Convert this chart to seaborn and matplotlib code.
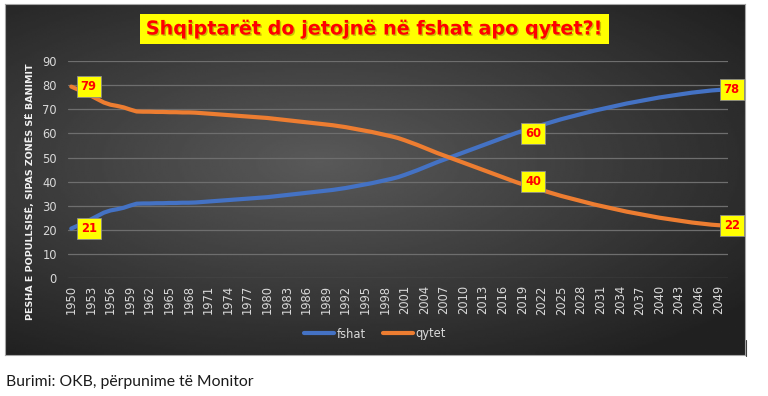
import numpy as np
import pandas as pd
import seaborn as sns
import matplotlib.pyplot as plt
from matplotlib.lines import Line2D
import matplotlib.patheffects as pe

# te dhenat (lexuar nga grafiku), 1950-2050
years = list(range(1950, 2051))
fshat = [20.6, 21.8, 23.1, 24.4, 25.8, 27.2, 28.1, 28.6, 29.2, 30.1,
         30.9, 31.0, 31.0, 31.1, 31.1, 31.2, 31.2, 31.3, 31.3, 31.4,
         31.6, 31.8, 32.0, 32.2, 32.4, 32.6, 32.8, 33.0, 33.2, 33.4,
         33.6, 33.9, 34.2, 34.5, 34.8, 35.1, 35.4, 35.7, 36.0, 36.3,
         36.6, 37.0, 37.4, 37.9, 38.4, 38.9, 39.4, 40.0, 40.6, 41.2,
         41.9, 42.8, 43.8, 44.8, 45.9, 47.0, 48.1, 49.1, 50.1, 51.1,
         52.1, 53.1, 54.1, 55.1, 56.1, 57.1, 58.1, 59.1, 60.1, 61.0,
         61.9, 62.7, 63.5, 64.3, 65.1, 65.9, 66.6, 67.3, 68.0, 68.7,
         69.4, 70.0, 70.6, 71.2, 71.8, 72.4, 72.9, 73.4, 73.9, 74.4,
         74.9, 75.3, 75.7, 76.1, 76.5, 76.9, 77.2, 77.5, 77.8, 78.0,
         78.2]
qytet = [79.4, 78.2, 76.9, 75.6, 74.2, 72.8, 71.9, 71.4, 70.8, 69.9,
         69.1, 69.0, 69.0, 68.9, 68.9, 68.8, 68.8, 68.7, 68.7, 68.6,
         68.4, 68.2, 68.0, 67.8, 67.6, 67.4, 67.2, 67.0, 66.8, 66.6,
         66.4, 66.1, 65.8, 65.5, 65.2, 64.9, 64.6, 64.3, 64.0, 63.7,
         63.4, 63.0, 62.6, 62.1, 61.6, 61.1, 60.6, 60.0, 59.4, 58.8,
         58.1, 57.2, 56.2, 55.2, 54.1, 53.0, 51.9, 50.9, 49.9, 48.9,
         47.9, 46.9, 45.9, 44.9, 43.9, 42.9, 41.9, 40.9, 39.9, 39.0,
         38.1, 37.3, 36.5, 35.7, 34.9, 34.1, 33.4, 32.7, 32.0, 31.3,
         30.6, 30.0, 29.4, 28.8, 28.2, 27.6, 27.1, 26.6, 26.1, 25.6,
         25.1, 24.7, 24.3, 23.9, 23.5, 23.1, 22.8, 22.5, 22.2, 22.0,
         21.8]
label_years = [1950, 2018, 2050]
label_offsets = [12.5, 12.5, 5]

title = 'Shqiptarët do jetojnë në fshat apo qytet?!'
ylabel = 'PESHA E POPULLSISË, SIPAS ZONËS SË BANIMIT'
source = 'Burimi: OKB, përpunime të Monitor'

df = pd.DataFrame({
    'viti': years * 2,
    'pesha': fshat + qytet,
    'zona': ['fshat'] * len(years) + ['qytet'] * len(years),
})
colors = {'fshat': '#4472C4', 'qytet': '#ED7D31'}

sns.set_theme(style='white')
plt.rcParams['font.family'] = ['DejaVu Sans']

fig = plt.figure(figsize=(7.68, 3.96), dpi=100)
fig.patch.set_facecolor('white')

# sfondi i erret me gradient
bg = fig.add_axes([5 / 768, 1 - 355 / 396, 740 / 768, 351 / 396])
yy, xx = np.mgrid[-1:1:200j, -1:1:400j]
r = np.sqrt(((xx + 0.15) * 1.0) ** 2 + ((yy + 0.1) * 1.1) ** 2)
shade = np.clip(0.35 - 0.15 * r, 0.13, 0.4)
bg.imshow(shade, cmap='gray', vmin=0, vmax=1, aspect='auto', interpolation='bilinear')
bg.set_xticks([])
bg.set_yticks([])
for s in bg.spines.values():
    s.set_color('#a6a6a6')
    s.set_linewidth(0.8)

ax = fig.add_axes([68 / 768, 1 - 278.3 / 396, 660 / 768, 217.3 / 396])
ax.set_facecolor('none')
sns.lineplot(data=df, x='viti', y='pesha', hue='zona', palette=colors,
             linewidth=3.0, ax=ax, legend=False)
ax.set_xlim(1949.5, 2050.5)
ax.set_ylim(0, 90)
ax.set_yticks(range(0, 91, 10))
ax.set_xticks(range(1950, 2050, 3))
ax.set_xticklabels([str(y) for y in range(1950, 2050, 3)], rotation=90)
ax.set_xlabel('')
ax.set_ylabel('')
ax.yaxis.grid(True, color='#6e6e6e', linewidth=0.9)
ax.xaxis.grid(False)
ax.set_axisbelow(True)
ax.tick_params(colors='#d9d9d9', length=0, labelsize=8.3)
ax.tick_params(axis='y', pad=8)
ax.tick_params(axis='x', pad=5)
for s in ax.spines.values():
    s.set_visible(False)

# etiketat e te dhenave
for vals in [fshat, qytet]:
    for yr, off in zip(label_years, label_offsets):
        v = vals[years.index(yr)]
        ax.annotate(f'{v:.0f}', (yr, v), xytext=(off, 0), textcoords='offset points',
                    ha='center', va='center', color='red', fontsize=8.3, fontweight='bold',
                    bbox=dict(boxstyle='square,pad=0.35', fc='yellow', ec='#8c8c8c', lw=0.6),
                    annotation_clip=False)

handles = [Line2D([], [], color=colors[k], lw=3.0) for k in colors]
ax.legend(handles, list(colors), loc='center', bbox_to_anchor=(375 / 768, 1 - 334 / 396),
          bbox_transform=fig.transFigure, ncol=2, frameon=False, labelcolor='#d9d9d9',
          fontsize=8.3, handlelength=2.6, columnspacing=1.5, handletextpad=0.2)

t = fig.text(374.5 / 768, 1 - 29 / 396, title, ha='center', va='center', color='red',
             fontsize=13.8, fontweight='bold',
             bbox=dict(boxstyle='square,pad=0.28', fc='yellow', ec='none'))
t.set_path_effects([pe.withSimplePatchShadow(offset=(1, -1), shadow_rgbFace='#7a6a00', alpha=0.4)])

fig.text(31 / 768, 1 - 191.5 / 396, ylabel, rotation=90, ha='center', va='center',
         color='#f2f2f2', fontsize=6.8, fontweight='bold')

fig.text(6 / 768, 1 - 382 / 396, source, ha='left', va='center', color='#1a1a1a',
         fontsize=11.3, family=['Lato', 'DejaVu Sans'])

fig.add_artist(Line2D([745.5 / 768] * 2, [1 - 340 / 396, 1 - 356 / 396],
                      color='#404040', lw=0.8))

fig.savefig('out.png', dpi=100, facecolor='white')
